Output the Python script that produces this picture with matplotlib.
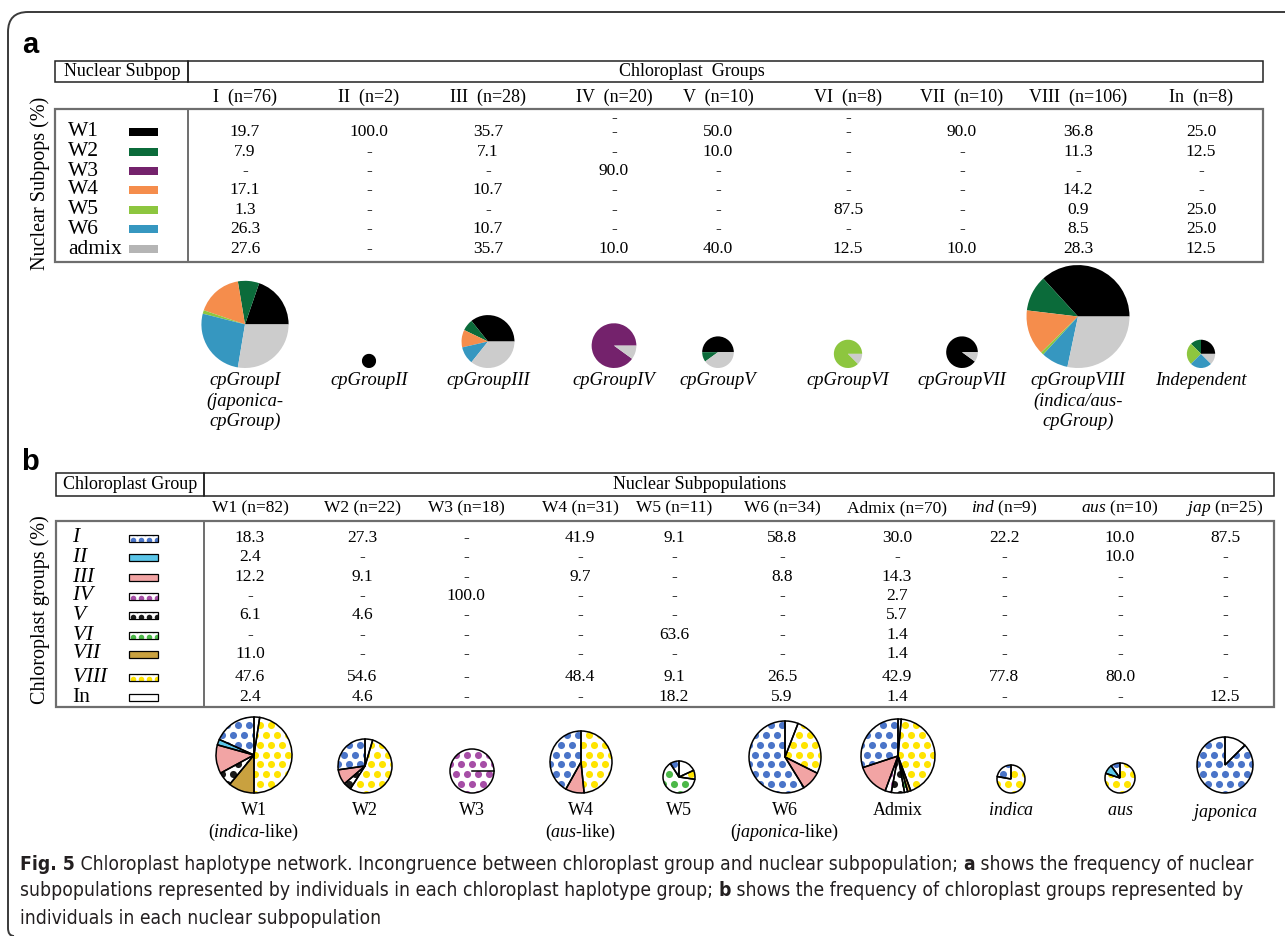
import numpy as np
import matplotlib.pyplot as plt
from matplotlib import font_manager
from matplotlib.font_manager import FontProperties
from matplotlib.patches import Rectangle, PathPatch
from matplotlib.path import Path

W, H = 1285, 936
SERIF = 'Liberation Serif'

plt.rcParams['mathtext.fontset'] = 'custom'
plt.rcParams['mathtext.rm'] = SERIF
plt.rcParams['mathtext.it'] = SERIF + ':italic'

# ---- panel a: nuclear subpops within each chloroplast group ----
cp_groups = ['I', 'II', 'III', 'IV', 'V', 'VI', 'VII', 'VIII', 'In']
cp_n = [76, 2, 28, 20, 10, 8, 10, 106, 8]
cp_names = ['cpGroupI\n(japonica-\ncpGroup)', 'cpGroupII', 'cpGroupIII', 'cpGroupIV',
            'cpGroupV', 'cpGroupVI', 'cpGroupVII',
            'cpGroupVIII\n(indica/aus-\ncpGroup)', 'Independent']
subpops = ['W1', 'W2', 'W3', 'W4', 'W5', 'W6', 'admix']
subpop_colors = ['#000000', '#0b6b3a', '#74226c', '#f58d4c', '#8dc63f', '#3697c0', '#cccccc']
subpop_swatch = ['#000000', '#0b6b3a', '#74226c', '#f58d4c', '#8dc63f', '#3697c0', '#b5b5b5']
W1_a = [19.7, 100.0, 35.7, None, 50.0, None, 90.0, 36.8, 25.0]
W2_a = [7.9, None, 7.1, None, 10.0, None, None, 11.3, 12.5]
W3_a = [None, None, None, 90.0, None, None, None, None, None]
W4_a = [17.1, None, 10.7, None, None, None, None, 14.2, None]
W5_a = [1.3, None, None, None, None, 87.5, None, 0.9, 25.0]
W6_a = [26.3, None, 10.7, None, None, None, None, 8.5, 25.0]
admix_a = [27.6, None, 35.7, 10.0, 40.0, 12.5, 10.0, 28.3, 12.5]
pct_a = [W1_a, W2_a, W3_a, W4_a, W5_a, W6_a, admix_a]

# ---- panel b: chloroplast groups within each nuclear subpop ----
nuc_heads = ['W1', 'W2', 'W3', 'W4', 'W5', 'W6', 'Admix', r'$\mathit{ind}$', r'$\mathit{aus}$', r'$\mathit{jap}$']
nuc_n = [82, 22, 18, 31, 11, 34, 70, 9, 10, 25]
nuc_names = ['W1\n(' + r'$\mathit{indica}$' + '-like)', 'W2', 'W3',
             'W4\n(' + r'$\mathit{aus}$' + '-like)', 'W5',
             'W6\n(' + r'$\mathit{japonica}$' + '-like)', 'Admix',
             r'$\mathit{indica}$', r'$\mathit{aus}$', r'$\mathit{japonica}$']
cp_rows = [r'$\mathit{I}$', r'$\mathit{II}$', r'$\mathit{III}$', r'$\mathit{IV}$', r'$\mathit{V}$',
           r'$\mathit{VI}$', r'$\mathit{VII}$', r'$\mathit{VIII}$', 'In']
cp_face = ['#4a74c8', '#5bc5e8', '#f2a4a4', '#a64ea6', '#1a1a1a', '#4cb848', '#c9a13f', '#ffe400', '#ffffff']
cp_dotted = [True, False, False, True, True, True, False, True, False]
I_b = [18.3, 27.3, None, 41.9, 9.1, 58.8, 30.0, 22.2, 10.0, 87.5]
II_b = [2.4, None, None, None, None, None, None, None, 10.0, None]
III_b = [12.2, 9.1, None, 9.7, None, 8.8, 14.3, None, None, None]
IV_b = [None, None, 100.0, None, None, None, 2.7, None, None, None]
V_b = [6.1, 4.6, None, None, None, None, 5.7, None, None, None]
VI_b = [None, None, None, None, 63.6, None, 1.4, None, None, None]
VII_b = [11.0, None, None, None, None, None, 1.4, None, None, None]
VIII_b = [47.6, 54.6, None, 48.4, 9.1, 26.5, 42.9, 77.8, 80.0, None]
In_b = [2.4, 4.6, None, None, 18.2, 5.9, 1.4, None, None, 12.5]
pct_b = [I_b, II_b, III_b, IV_b, V_b, VI_b, VII_b, VIII_b, In_b]

caption = [
    [('Fig. 5', True), (' Chloroplast haplotype network. Incongruence between chloroplast group and '
                        'nuclear subpopulation; ', False), ('a', True),
     (' shows the frequency of nuclear', False)],
    [('subpopulations represented by individuals in each chloroplast haplotype group; ', False),
     ('b', True), (' shows the frequency of chloroplast groups represented by', False)],
    [('individuals in each nuclear subpopulation', False)],
]

# layout (pixel positions, y measured from the top)
col_a = [245, 369, 488, 614, 718, 848, 962, 1078, 1201]
row_a = [132, 152, 171, 190, 210, 229, 249]
pie_bottom_a = 368
col_b = [250, 362, 466, 580, 674, 782, 897, 1004, 1120, 1225]
pie_x_b = [254, 365, 472, 581, 679, 785, 898, 1011, 1120, 1225]
pie_r_b = [38, 27, 22, 31, 16, 36, 37, 14, 15, 28]
row_b = [538, 557, 577, 596, 615, 635, 654, 677, 697]
pie_bottom_b = 793

fig = plt.figure(figsize=(W / 100, H / 100), dpi=100)
ax = fig.add_axes([0, 0, 1, 1])


def Y(y):
    return H - y


def txt(x, y, s, size=12.5, **kw):
    kw.setdefault('family', SERIF)
    kw.setdefault('ha', 'center')
    kw.setdefault('va', 'center')
    return ax.text(x, Y(y), s, fontsize=size, **kw)


def box(x0, y0, x1, y1, **kw):
    ax.add_patch(Rectangle((x0, Y(y1)), x1 - x0, y1 - y0, fill=False, **kw))


def dots(patch, color, cx, cy, r, step=11.0, size=26):
    ys = np.arange(cy - r - step, cy + r + step, step * 0.9)
    xs = np.arange(cx - r - step, cx + r + step, step)
    px, py = [], []
    for i, yy in enumerate(ys):
        px.extend(xs + (i % 2) * step / 2)
        py.extend([yy] * len(xs))
    sc = ax.scatter(px, py, s=size, c=color, linewidths=0, zorder=2)
    sc.set_clip_path(patch)


def fmt(v):
    return '-' if v is None else f'{v:.1f}'


# outer frame: rounded top-left corner, runs off the right and bottom edges
frame = Path([(W + 20, Y(12)), (28, Y(12)), (8, Y(12)), (8, Y(32)), (8, Y(928)), (8, Y(936)), (14, Y(936))],
             [Path.MOVETO, Path.LINETO, Path.CURVE3, Path.CURVE3, Path.LINETO, Path.CURVE3, Path.CURVE3])
ax.add_patch(PathPatch(frame, fill=False, ec='#3a3a3a', lw=1.4))

# ================= panel a =================
txt(30, 45, 'a', size=21, family='Liberation Sans', weight='bold')
box(55, 61, 188, 82, ec='#222222', lw=1.1)
box(188, 61, 1263, 82, ec='#222222', lw=1.1)
txt(122, 71.5, 'Nuclear Subpop', size=13)
txt(692, 71.5, 'Chloroplast  Groups', size=13)
for x, g, n in zip(col_a, cp_groups, cp_n):
    txt(x, 97, f'{g}  (n={n})', size=13)
box(55, 109, 1263, 262, ec='#6e6e6e', lw=1.6)
ax.plot([188, 188], [Y(109), Y(262)], color='#6e6e6e', lw=1.4)
txt(40, 183, 'Nuclear Subpops (%)', size=14.5, rotation=90)

for y, name, sw, vals in zip(row_a, subpops, subpop_swatch, pct_a):
    txt(68, y, name, size=15.5, ha='left')
    ax.add_patch(Rectangle((129, Y(y) - 4), 29, 8, color=sw, lw=0))
    for x, v in zip(col_a, vals):
        txt(x, y, fmt(v))
# stray dashes printed above the W1 row in columns IV and VI
for j in (3, 5):
    txt(col_a[j], 118, '-')

for j, (x, n, name) in enumerate(zip(col_a, cp_n, cp_names)):
    r = 5.0 * np.sqrt(n)
    cy = Y(pie_bottom_a) + r
    vals = [pct_a[i][j] for i in range(len(subpops))]
    keep = [(v, c) for v, c in zip(vals, subpop_colors) if v]
    ax.pie([v for v, c in keep], colors=[c for v, c in keep], startangle=0,
           counterclock=True, center=(x, cy), radius=r, frame=True,
           wedgeprops=dict(linewidth=0))
    txt(x, 372, name, size=13.3, style='italic', va='top', linespacing=1.25)

# ================= panel b =================
txt(30, 462, 'b', size=21, family='Liberation Sans', weight='bold')
box(56, 473, 204, 496, ec='#222222', lw=1.1)
box(204, 473, 1274, 496, ec='#222222', lw=1.1)
txt(130, 484.5, 'Chloroplast Group', size=13)
txt(700, 484.5, 'Nuclear Subpopulations', size=13)
for x, g, n in zip(col_b, nuc_heads, nuc_n):
    txt(x, 508, f'{g} (n={n})', size=12.5)
box(56, 521, 1274, 707, ec='#6e6e6e', lw=1.6)
ax.plot([204, 204], [Y(521), Y(707)], color='#6e6e6e', lw=1.4)
txt(40, 610, 'Chloroplast groups (%)', size=14.5, rotation=90)

for y, name, fc, dotted, vals in zip(row_b, cp_rows, cp_face, cp_dotted, pct_b):
    txt(72, y, name, size=15.5, ha='left')
    swatch = Rectangle((129, Y(y) - 3.5), 29, 7, fc='white' if dotted else fc, lw=0, zorder=1)
    ax.add_patch(swatch)
    if dotted:
        dots(swatch, fc, 143.5, Y(y) - 1, 15, step=8.0, size=16)
    ax.add_patch(Rectangle((129, Y(y) - 3.5), 29, 7, fill=False, ec='black', lw=0.9, zorder=3))
    for x, v in zip(col_b, vals):
        txt(x, y, fmt(v))

for j, (x, r, name) in enumerate(zip(pie_x_b, pie_r_b, nuc_names)):
    cy = Y(pie_bottom_b) + r
    vals = [pct_b[i][j] for i in range(len(cp_rows))]
    keep = [(v, fc, d) for v, fc, d in zip(vals, cp_face, cp_dotted) if v]
    sizes = [k[0] for k in keep]
    wedges, _ = ax.pie(sizes, colors=['white' if k[2] else k[1] for k in keep], startangle=90,
                       counterclock=True, center=(x, cy), radius=r, frame=True,
                       wedgeprops=dict(linewidth=0))
    for w, k in zip(wedges, keep):
        if k[2]:
            dots(w, k[1], x, cy, r)
    ax.pie(sizes, startangle=90, counterclock=True, center=(x, cy), radius=r, frame=True,
           wedgeprops=dict(fill=False, edgecolor='black', linewidth=1.1, zorder=3))
    if len(keep) == 1:
        ax.plot([x, x + r], [cy, cy], color='black', lw=1.1, zorder=3)
    txt(x, 802, name, size=13, va='top', linespacing=1.2)

ax.set_xlim(0, W)
ax.set_ylim(0, H)
ax.set_aspect('auto')
ax.axis('off')

# ================= caption =================
# prefer a narrow sans face for the caption when one is installed
narrow = [f for f in font_manager.fontManager.ttflist
          if ('Narrow' in f.name or 'Condensed' in f.name
              or str(f.stretch) in ('condensed', 'semi-condensed'))
          and 'Serif' not in f.name and 'Mono' not in f.name and f.style == 'normal']


def pick(bold):
    good = [f for f in narrow if (int(f.weight) >= 600) == bold] if narrow else []
    if good:
        return FontProperties(fname=good[0].fname)
    return FontProperties(family='Liberation Sans', weight='bold' if bold else 'normal')


cap_reg, cap_bold = pick(False), pick(True)
renderer = fig.canvas.get_renderer()


def draw_caption_line(segs, x, y, size, keep=True):
    items = []
    for s, bold in segs:
        fp = (cap_bold if bold else cap_reg).copy()
        fp.set_size(size)
        t = ax.text(x, Y(y), s, fontproperties=fp, color='#231f20', ha='left', va='center')
        x = t.get_window_extent(renderer).x1
        items.append(t)
    if not keep:
        for t in items:
            t.remove()
    return x


cap_size = 14.0
right = draw_caption_line(caption[0], 20, 864, cap_size, keep=False)
cap_size *= (1262 - 20) / (right - 20)
for k, segs in enumerate(caption):
    draw_caption_line(segs, 20, 864 + 27 * k, cap_size)

fig.savefig('out.png', dpi=100)
